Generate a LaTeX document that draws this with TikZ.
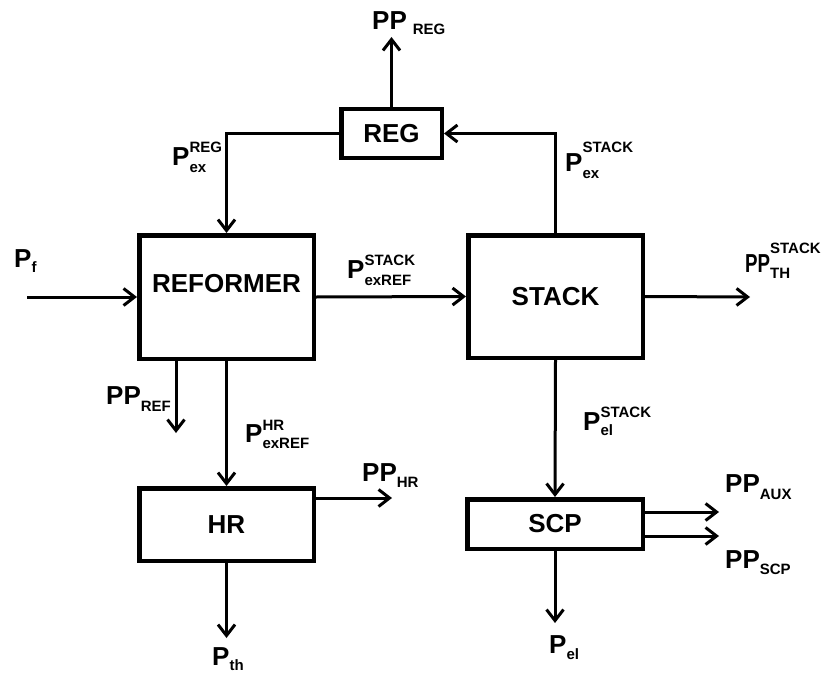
\documentclass[tikz,border=0pt]{standalone}
\usepackage{fontspec}
\setmainfont{Liberation Sans}
\usetikzlibrary{arrows.meta}
\newcommand\bigf{\fontsize{26}{26}\selectfont\bfseries}
\newcommand\subf{\fontsize{15}{15}\selectfont\bfseries}
% base, sup raise, sup, sub lower, sub
\newcommand\Lab[5]{{\bigf #1}\makebox[0pt][l]{\raisebox{#2}{\subf #3}}\raisebox{-#4}{\subf #5}}
\begin{document}
\begin{tikzpicture}[x=1pt,y=-1pt,
  box/.style={draw, line width=4.5pt, inner sep=0pt, font=\bigf},
  arr/.style={line width=3pt, -{Straight Barb[length=11pt,width=17pt]}},
  lbl/.style={anchor=base west, inner sep=0pt}]
\useasboundingbox (0,0) rectangle (821,674);
% boxes
\node[box, minimum width=174.5pt, minimum height=123.5pt] (ref) at (226.5,297) {};
\node[font=\bigf, inner sep=0pt] (reft) at ([yshift=13pt]ref.center) {REFORMER};
\node[box, minimum width=174.5pt, minimum height=122.5pt] (stack) at (555.5,296.5) {STACK};
\node[box, minimum width=100.5pt, minimum height=48.5pt] (reg) at (391.5,133.5) {REG};
\node[box, minimum width=174.5pt, minimum height=72.5pt] (hr) at (226.5,524.5) {HR};
\node[box, minimum width=175.5pt, minimum height=49.5pt] (scp) at (555,524) {SCP};
% free ends
\coordinate (pregout) at (391.5,37);
\coordinate (pfin) at (27,297);
\coordinate (pthout) at (750,297);
\coordinate (prefout) at (176,433);
\coordinate (pthhr) at (226.5,638);
\coordinate (phrout) at (392,498);
\coordinate (pauxout) at (719,512);
\coordinate (pscpout) at (719,536);
\coordinate (pelout) at (555,623);
% connectors
\draw[arr] (reg.north) -- (pregout);
\draw[arr] (reg.west) -| (ref.north);
\draw[arr] (stack.north) |- (reg.east);
\draw[arr] (pfin) -- (ref.west);
\draw[arr] (ref.east) -- (stack.west);
\draw[arr] (stack.east) -- (pthout);
\draw[arr] (ref.south -| prefout) -- (prefout);
\draw[arr] (ref.south) -- (hr.north);
\draw[arr] (hr.south) -- (pthhr);
\draw[arr] (hr.east |- phrout) -- (phrout);
\draw[arr] (stack.south) -- (scp.north);
\draw[arr] (scp.east |- pauxout) -- (pauxout);
\draw[arr] (scp.east |- pscpout) -- (pscpout);
\draw[arr] (scp.south) -- (pelout);
% labels
\node[lbl] (lpreg) at (372,30) {{\bigf PP}\hspace{6pt}\raisebox{-5pt}{\subf REG}};
\node[lbl] (lpexreg) at (172,165) {\Lab{P}{13pt}{REG}{7pt}{ex}};
\node[lbl] (lpf) at (14,267) {\Lab{P}{13pt}{}{5pt}{f}};
\node[lbl] (lpexref) at (347,278) {\Lab{P}{13pt}{STACK}{7pt}{exREF}};
\node[lbl] (lpexst) at (565,171) {\Lab{P}{19pt}{STACK}{7pt}{ex}};
\node[lbl] (lppth) at (745,272) {\Lab{\scalebox{0.72}[1]{PP}}{19pt}{STACK}{6pt}{TH}};
\node[lbl] (lppref) at (106,404) {\Lab{PP}{13pt}{}{7pt}{REF}};
\node[lbl] (lpexhr) at (245,442) {\Lab{P}{12pt}{HR}{6pt}{exREF}};
\node[lbl] (lpphr) at (362,481) {\Lab{PP}{13pt}{}{6pt}{HR}};
\node[lbl] (lpth) at (212,665) {\Lab{P}{13pt}{}{5pt}{th}};
\node[lbl] (lpelst) at (583,430) {\Lab{P}{13pt}{STACK}{5pt}{el}};
\node[lbl] (lppaux) at (725,492) {\Lab{PP}{13pt}{}{7pt}{AUX}};
\node[lbl] (lppscp) at (725,568) {\Lab{PP}{13pt}{}{6pt}{SCP}};
\node[lbl] (lpel) at (549,653) {\Lab{P}{13pt}{}{6pt}{el}};
\end{tikzpicture}
\end{document}
